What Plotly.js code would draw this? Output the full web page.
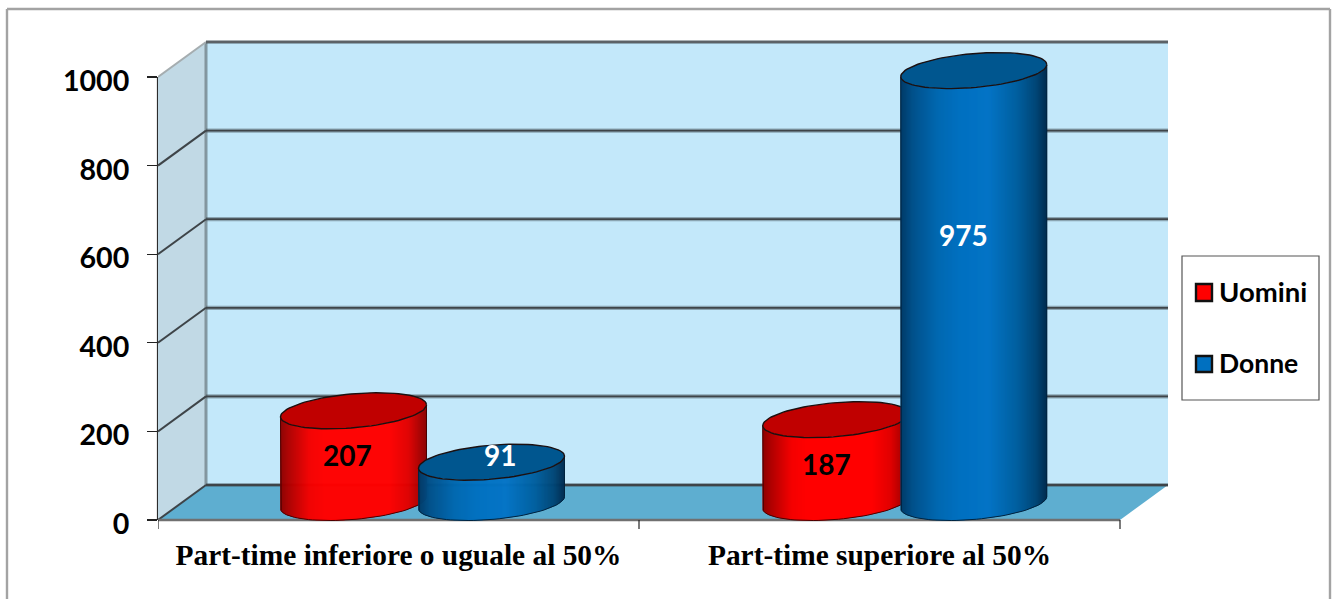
<!DOCTYPE html>
<html><head><meta charset="utf-8">
<script src="https://cdn.plot.ly/plotly-3.0.1.min.js"></script>
<style>html,body{margin:0;padding:0;background:#fff;overflow:hidden}</style>
</head><body><div id="chart" style="width:1333px;height:599px"></div>
<script>
// ---- data ----
const categories = ["Part-time inferiore o uguale al 50%", "Part-time superiore al 50%"];
const uomini = [207, 187];
const donne = [91, 975];
const yTicks = [0, 200, 400, 600, 800, 1000];

// ---- layout constants ----
const W = 1333, H = 599;
const M = {l:158, r:W-1170, t:38, b:H-530};
const pxX = 481, pxY = 0.443;          // pixels per data unit
const xRange = [0, (1170-158)/pxX];
const yRange = [-10/pxY, (520-38)/pxY];
const depthX = 48/pxX, depthY = 35/pxY;
const halfW = 73/pxX, sep = 138/pxX;
const baseY = depthY/2;
const ellB = 17/pxY, ellC = 6/pxY;
const paperX = p => (p-M.l)/(W-M.l-M.r);
const paperY = p => 1-(p-M.t)/(H-M.t-M.b);
const centre = (i,side) => i+0.5+depthX/2+side*sep/2+i*1.25/pxX;

const redStops  = [[0,'#8c0000'],[0.06,'#b00000'],[0.2,'#f40000'],[0.3,'#ff0000'],[0.75,'#ff0000'],[0.88,'#e00000'],[1,'#8c0000']];
const blueStops = [[0,'#003a66'],[0.08,'#00508a'],[0.25,'#0068b0'],[0.4,'#0070c0'],[0.6,'#0474c6'],[0.8,'#005f9f'],[0.93,'#004676'],[1,'#002c50']];
const hex = c => [1,3,5].map(i=>parseInt(c.substr(i,2),16));
function grad(stops,t){
  for(let i=1;i<stops.length;i++){
    if(t<=stops[i][0]){
      const f=(t-stops[i-1][0])/(stops[i][0]-stops[i-1][0]);
      const a=hex(stops[i-1][1]),b=hex(stops[i][1]);
      return 'rgb('+a.map((v,k)=>Math.round(v+(b[k]-v)*f)).join(',')+')';
    }
  }
  return stops[stops.length-1][1];
}
const lower = (u,cy)=>cy-ellB*Math.sqrt(Math.max(0,1-u*u))+ellC*u;

function cylinderTraces(values,side,stops,capColor,edge,name,xa,ya){
  const out=[];
  const xs=[],ys=[],bases=[],cols=[];
  const n=146;
  values.forEach((v,i)=>{
    const cx=centre(i,side);
    for(let k=0;k<n;k++){
      const t=(k+0.5)/n, u=2*t-1;
      xs.push(cx+u*halfW); ys.push(v); bases.push(lower(u,baseY)); cols.push(grad(stops,t));
    }
  });
  out.push({type:'bar',name:name,xaxis:xa,yaxis:ya,x:xs,y:ys,base:bases,width:xs.map(()=>1.7/pxX),
    marker:{color:cols,line:{width:0}},hoverinfo:'skip',showlegend:false});
  values.forEach((v,i)=>{
    const cx=centre(i,side), top=baseY+v;
    const ox=[cx-halfW],oy=[top-ellC];
    for(let d=180;d<=360;d+=4){
      const r=d*Math.PI/180,u=Math.cos(r);
      ox.push(cx+u*halfW); oy.push(baseY+ellB*Math.sin(r)+ellC*u);
    }
    ox.push(cx+halfW); oy.push(top+ellC);
    out.push({type:'scatter',xaxis:xa,yaxis:ya,mode:'lines',x:ox,y:oy,line:{color:edge,width:1},hoverinfo:'skip',showlegend:false});
    const cxs=[],cys=[];
    for(let d=0;d<=360;d+=4){
      const r=d*Math.PI/180,u=Math.cos(r);
      cxs.push(cx+u*halfW); cys.push(top+ellB*Math.sin(r)+ellC*u);
    }
    out.push({type:'scatter',xaxis:xa,yaxis:ya,mode:'lines',x:cxs,y:cys,fill:'toself',fillcolor:capColor,
      line:{color:'#1c1010',width:1.4},hoverinfo:'skip',showlegend:false});
  });
  return out;
}

const traces=[
  ...cylinderTraces(uomini,-1,redStops,'#c00000','#4a0000','Uomini','x','y'),
  ...cylinderTraces(donne,1,blueStops,'#00568f','#00233f','Donne','x2','y2')
];

// ---- walls, grid, axes as shapes on the data axes ----
const top3d=1000, xEnd=2;
const shapes=[
  {type:'path',layer:'below',xref:'x',yref:'y',line:{width:0},fillcolor:'#c3e8fa',
   path:`M${depthX},${depthY}L${xEnd+depthX},${depthY}L${xEnd+depthX},${top3d+depthY}L${depthX},${top3d+depthY}Z`},
  {type:'path',layer:'below',xref:'x',yref:'y',line:{width:0},fillcolor:'#c1d9e5',
   path:`M0,0L${depthX},${depthY}L${depthX},${top3d+depthY}L0,${top3d}Z`},
  {type:'path',layer:'below',xref:'x',yref:'y',line:{width:0},fillcolor:'#5eaed0',
   path:`M0,0L${xEnd},0L${xEnd+depthX},${depthY}L${depthX},${depthY}Z`},
  {type:'line',layer:'below',xref:'x',yref:'y',x0:depthX,x1:depthX,y0:depthY,y1:top3d+depthY,line:{color:'rgba(110,125,132,0.75)',width:3}},
  {type:'line',layer:'below',xref:'x',yref:'y',x0:0,x1:depthX,y0:top3d,y1:top3d+depthY,line:{color:'#a5adb0',width:2}}
];
yTicks.forEach(v=>{
  shapes.push({type:'line',layer:'below',xref:'x',yref:'y',x0:depthX,x1:xEnd+depthX,y0:v+depthY,y1:v+depthY,
    line:{color:'rgba(70,85,92,0.45)',width:4.2}});
  shapes.push({type:'line',layer:'below',xref:'x',yref:'y',x0:depthX,x1:xEnd+depthX,y0:v+depthY,y1:v+depthY,
    line:{color:v===top3d?'#5c6266':'#3e4448',width:1.8}});
  if(v<top3d) shapes.push({type:'line',layer:'below',xref:'x',yref:'y',x0:0,x1:depthX,y0:v,y1:v+depthY,line:{color:'#3e4448',width:2}});
});
shapes.push({type:'line',layer:'below',xref:'x',yref:'y',x0:0,x1:xEnd,y0:0,y1:0,line:{color:'#707070',width:2.6}});
shapes.push({type:'line',layer:'below',xref:'paper',yref:'y',x0:0,x1:0,y0:0,y1:top3d,line:{color:'#2c2c2c',width:2.2}});
[0,1,2].forEach(v=>shapes.push({type:'line',layer:'below',xref:'x',yref:'y',x0:v,x1:v,y0:0,y1:-9/pxY,line:{color:'#222',width:1.2}}));

// outer frame (open at the bottom of the picture)
const fx0=paperX(7),fx1=paperX(1330),fy0=paperY(9),fy1=paperY(605);
[[fx0,fy1,fx0,fy0],[fx0,fy0,fx1,fy0],[fx1,fy0,fx1,fy1]].forEach(s=>shapes.push(
  {type:'line',xref:'paper',yref:'paper',x0:s[0],y0:s[1],x1:s[2],y1:s[3],line:{color:'#a3a3a3',width:2.4}}));
// legend box
shapes.push({type:'rect',xref:'paper',yref:'paper',x0:paperX(1182),x1:paperX(1319),y0:paperY(400),y1:paperY(256),
  line:{color:'#555',width:1.2},fillcolor:'#fff'});
shapes.push({type:'rect',xref:'paper',yref:'paper',x0:paperX(1196),x1:paperX(1212),y0:paperY(301),y1:paperY(284),
  line:{color:'#111',width:2.4},fillcolor:'#ff0000'});
shapes.push({type:'rect',xref:'paper',yref:'paper',x0:paperX(1196),x1:paperX(1212),y0:paperY(372),y1:paperY(356),
  line:{color:'#111',width:2.4},fillcolor:'#0070c0'});

const labelFont=(c,s)=>({family:'Lato, "Open Sans", sans-serif',size:s||28,color:c,weight:700});
const annotations=[
  {x:centre(0,-1)-6/pxX, y:(520-455)/pxY, text:String(uomini[0]), font:labelFont('#000')},
  {x:centre(0,1)+8/pxX,  y:(520-455)/pxY, text:String(donne[0]),  font:labelFont('#fff')},
  {x:centre(1,-1)-9/pxX, y:(520-464)/pxY, text:String(uomini[1]), font:labelFont('#000')},
  {x:centre(1,1)-10/pxX, y:(520-235)/pxY, text:String(donne[1]),  font:labelFont('#fff')}
].map(a=>Object.assign(a,{xref:'x',yref:'y',showarrow:false,xanchor:'center',yanchor:'middle'}));
annotations.push(
  {xref:'paper',yref:'paper',x:paperX(1217),y:paperY(291),text:'Uomini',showarrow:false,xanchor:'left',yanchor:'middle',font:labelFont('#000',27.5)},
  {xref:'paper',yref:'paper',x:paperX(1217),y:paperY(363),text:'Donne',showarrow:false,xanchor:'left',yanchor:'middle',font:labelFont('#000',26.5)}
);

const hidden={fixedrange:true,visible:false,showgrid:false,zeroline:false};
const layout={
  width:W,height:H,autosize:false,showlegend:false,barmode:'overlay',
  paper_bgcolor:'#fff',plot_bgcolor:'#fff',
  margin:{l:M.l,r:M.r,t:M.t,b:M.b,pad:0},
  xaxis:{range:xRange,fixedrange:true,tickmode:'array',tickvals:[0.5,1.5],ticktext:categories,ticks:'',
    showgrid:false,zeroline:false,showline:false,ticklabelstandoff:5,
    tickfont:{family:'"Liberation Serif", serif',size:29.4,color:'#000',weight:700}},
  yaxis:{range:yRange,fixedrange:true,tickmode:'array',tickvals:yTicks,ticks:'outside',ticklen:10,tickwidth:1.3,tickcolor:'#222',
    showgrid:false,zeroline:false,showline:false,ticklabelstandoff:12,ticklabelshift:4,
    tickfont:labelFont('#000',28.6)},
  xaxis2:Object.assign({range:xRange,overlaying:'x',anchor:'y2'},hidden),
  yaxis2:Object.assign({range:yRange,overlaying:'y',anchor:'x2'},hidden),
  shapes:shapes,annotations:annotations
};
Plotly.newPlot('chart',traces,layout,{displayModeBar:false,staticPlot:true});
</script></body></html>
